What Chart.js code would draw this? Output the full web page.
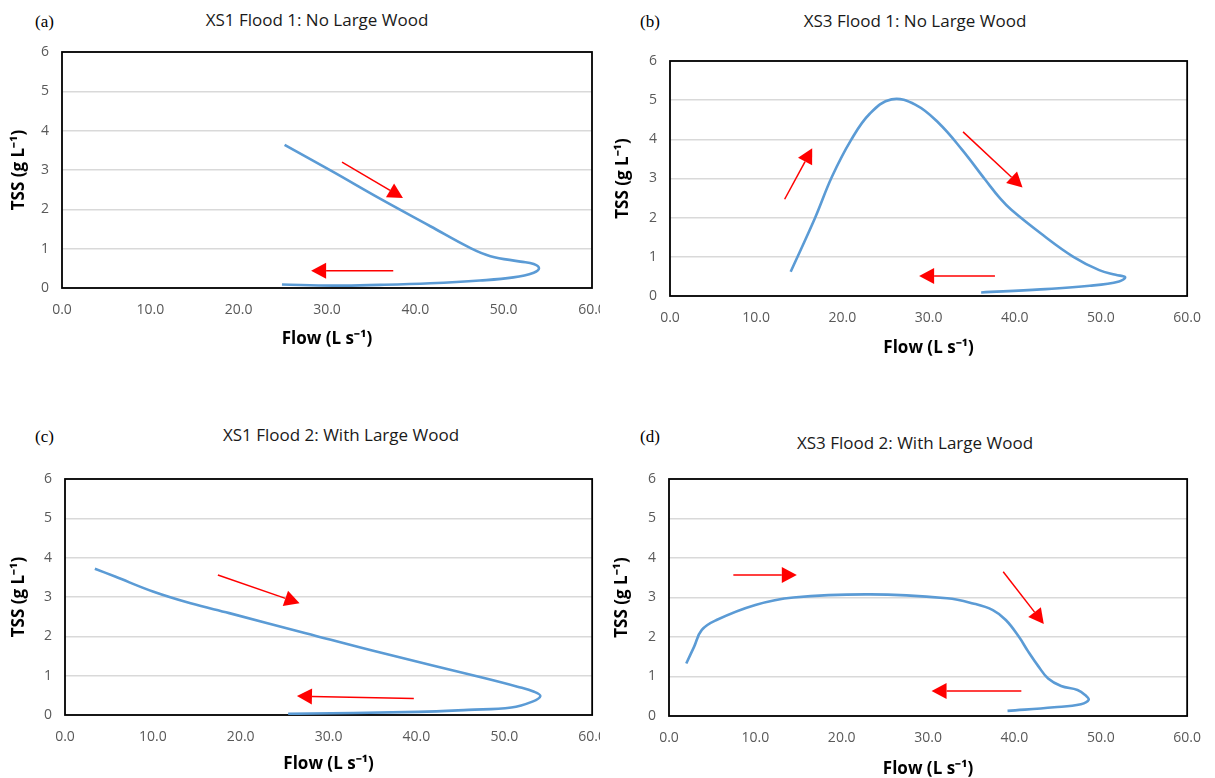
<!DOCTYPE html>
<html>
<head>
<meta charset="utf-8">
<script src="https://cdn.jsdelivr.net/npm/chart.js@4.4.1/dist/chart.umd.min.js"></script>
<style>
  body { margin:0; width:1215px; height:778px; background:#fff; position:relative; overflow:hidden; }
  .wrap { position:absolute; overflow:hidden; }
  .wrap canvas { position:absolute; left:0; top:0; }
  .title { position:absolute; width:400px; text-align:center; font-family:"Open Sans", sans-serif; font-size:17px; color:#1a1a1a; line-height:22px; }
  .tag { position:absolute; font-family:"Liberation Serif", "DejaVu Serif", serif; font-size:17px; color:#000; line-height:20px; }
</style>
</head>
<body>
<div class="tag" style="left:35px;top:12px">(a)</div>
<div class="tag" style="left:640px;top:12px">(b)</div>
<div class="tag" style="left:35px;top:427px">(c)</div>
<div class="tag" style="left:640px;top:427px">(d)</div>
<div class="title" style="left:117px;top:9px">XS1 Flood 1: No Large Wood</div>
<div class="title" style="left:715px;top:10px">XS3 Flood 1: No Large Wood</div>
<div class="title" style="left:141px;top:424px">XS1 Flood 2: With Large Wood</div>
<div class="title" style="left:715px;top:432px">XS3 Flood 2: With Large Wood</div>

<div class="wrap" style="left:0;top:0;width:600px;height:360px"><canvas id="chart-a" width="620" height="360"></canvas></div>
<div class="wrap" style="left:600px;top:0;width:615px;height:360px"><canvas id="chart-b" width="615" height="360"></canvas></div>
<div class="wrap" style="left:0;top:400px;width:600px;height:378px"><canvas id="chart-c" width="620" height="378"></canvas></div>
<div class="wrap" style="left:600px;top:400px;width:615px;height:378px"><canvas id="chart-d" width="615" height="378"></canvas></div>

<script>
// values (flow in L/s, TSS in g/L)
const xTicks = [0, 10, 20, 30, 40, 50, 60];
const yTicks = [0, 1, 2, 3, 4, 5, 6];

const flowA = [25.2, 30.7, 36.0, 41.7, 46.2, 48.5, 51.9, 53.4, 54.0, 53.4, 51.1, 47.3, 41.7, 36.0, 30.7, 24.9];
const tssA  = [3.64, 2.95, 2.27, 1.57, 1.02, 0.81, 0.67, 0.61, 0.50, 0.39, 0.27, 0.19, 0.12, 0.08, 0.06, 0.09];

const flowB = [14.0, 16.8, 18.8, 21.0, 23.2, 25.7, 28.5, 31.2, 33.9, 36.6, 38.3, 39.6, 43.0, 46.8, 49.8, 51.7, 52.8, 52.1, 48.7, 43.0, 36.1];
const tssB  = [0.62, 1.98, 3.05, 3.98, 4.66, 5.02, 4.88, 4.41, 3.73, 2.96, 2.49, 2.20, 1.60, 1.00, 0.66, 0.54, 0.48, 0.37, 0.26, 0.17, 0.09];

const flowC = [3.4, 5.7, 10.0, 14.3, 18.7, 27.4, 36.0, 47.7, 51.5, 53.4, 54.1, 53.2, 50.8, 45.9, 40.2, 25.4];
const tssC  = [3.72, 3.52, 3.14, 2.84, 2.59, 2.08, 1.58, 0.94, 0.72, 0.59, 0.48, 0.34, 0.19, 0.13, 0.08, 0.03];

const flowD = [2.0, 2.9, 3.8, 5.5, 10.0, 14.4, 23.3, 32.2, 35.2, 37.5, 39.0, 40.5, 41.6, 42.8, 43.9, 45.4, 47.3, 48.2, 48.6, 47.7, 44.6, 39.2];
const tssD  = [1.33, 1.75, 2.18, 2.43, 2.81, 3.00, 3.08, 2.98, 2.85, 2.68, 2.43, 2.01, 1.63, 1.25, 0.95, 0.76, 0.66, 0.53, 0.41, 0.30, 0.22, 0.13];

// arrows: [fromFlow, fromTss, toFlow, toTss]
const arrowsA = [[31.7, 3.20, 38.6, 2.29], [37.5, 0.44, 28.2, 0.44]];
const arrowsB = [[13.3, 2.47, 16.5, 3.77], [34.0, 4.19, 40.9, 2.77], [37.7, 0.51, 28.9, 0.51]];
const arrowsC = [[17.4, 3.56, 26.7, 2.84], [39.7, 0.42, 26.4, 0.48]];
const arrowsD = [[7.45, 3.57, 14.8, 3.57], [38.7, 3.65, 43.4, 2.33], [40.8, 0.63, 30.4, 0.63]];

// page layout of each plot
const panels = [
  { id:'a', x0:0,   y0:0,   W:620, H:360, area:{l:62,  t:52,  r:592,  b:288}, yTitleX:19,  xTitleY:339, flow:flowA, tss:tssA, arrows:arrowsA },
  { id:'b', x0:600, y0:0,   W:615, H:360, area:{l:670, t:61,  r:1199, b:296}, yTitleX:623, xTitleY:348, flow:flowB, tss:tssB, arrows:arrowsB },
  { id:'c', x0:0,   y0:400, W:620, H:378, area:{l:65,  t:479, r:595,  b:715}, yTitleX:19,  xTitleY:764, flow:flowC, tss:tssC, arrows:arrowsC },
  { id:'d', x0:600, y0:400, W:615, H:378, area:{l:669, t:479, r:1198, b:716}, yTitleX:622, xTitleY:769, flow:flowD, tss:tssD, arrows:arrowsD }
];

const tickFont = { family:'"Open Sans", sans-serif', size:14 };
const axisFont = { family:'"Open Sans", sans-serif', size:17, weight:'bold' };

const boxAndArrows = {
  id: 'boxAndArrows',
  beforeDatasetsDraw(chart) {
    const a = chart.chartArea, ctx = chart.ctx;
    ctx.save();
    ctx.strokeStyle = '#000';
    ctx.lineWidth = 1.8;
    ctx.strokeRect(a.left, a.top, a.right - a.left, a.bottom - a.top);
    ctx.restore();
  },
  afterDatasetsDraw(chart, args, opts) {
    const ctx = chart.ctx, xs = chart.scales.x, ys = chart.scales.y;
    ctx.save();
    ctx.strokeStyle = '#ff0000';
    ctx.fillStyle = '#ff0000';
    ctx.lineWidth = 1.5;
    (opts.arrows || []).forEach(ar => {
      const x1 = xs.getPixelForValue(ar[0]), y1 = ys.getPixelForValue(ar[1]);
      const x2 = xs.getPixelForValue(ar[2]), y2 = ys.getPixelForValue(ar[3]);
      const ang = Math.atan2(y2 - y1, x2 - x1);
      const hl = 15, hw = 8;
      const bx = x2 - Math.cos(ang) * hl, by = y2 - Math.sin(ang) * hl;
      ctx.beginPath();
      ctx.moveTo(x1, y1);
      ctx.lineTo(bx, by);
      ctx.stroke();
      ctx.beginPath();
      ctx.moveTo(x2, y2);
      ctx.lineTo(bx + Math.sin(ang) * hw, by - Math.cos(ang) * hw);
      ctx.lineTo(bx - Math.sin(ang) * hw, by + Math.cos(ang) * hw);
      ctx.closePath();
      ctx.fill();
    });
    ctx.restore();
  }
};

function makeChart(p) {
  const ayW = p.area.l - p.x0;
  const axH = p.y0 + p.H - p.area.b;
  const padRight = p.x0 + p.W - p.area.r;
  const padTop = p.area.t - p.y0;

  new Chart(document.getElementById('chart-' + p.id), {
    type: 'scatter',
    data: {
      datasets: [{
        data: p.flow.map((f, i) => ({ x: f, y: p.tss[i] })),
        showLine: true,
        borderColor: '#5B9BD5',
        borderWidth: 2.6,
        pointRadius: 0,
        tension: 0.4,
        fill: false
      }]
    },
    options: {
      responsive: false,
      animation: false,
      layout: { padding: { left: 0, top: padTop, right: padRight, bottom: 0 } },
      plugins: {
        legend: { display: false },
        tooltip: { enabled: false },
        boxAndArrows: { arrows: p.arrows }
      },
      scales: {
        x: {
          type: 'linear',
          min: xTicks[0], max: xTicks[xTicks.length - 1],
          afterBuildTicks: s => { s.ticks = xTicks.map(v => ({ value: v })); },
          ticks: { callback: v => v.toFixed(1), color: '#595959', font: tickFont, padding: 14, maxRotation: 0, autoSkip: false },
          grid: { display: false, drawTicks: false },
          border: { display: false },
          title: { display: true, text: 'Flow (L s⁻¹)', color: '#000', font: axisFont,
                   padding: { top: 0, bottom: p.y0 + p.H - p.xTitleY - 10 } },
          afterFit: s => { s.height = axH; }
        },
        y: {
          min: yTicks[0], max: yTicks[yTicks.length - 1],
          afterBuildTicks: s => { s.ticks = yTicks.map(v => ({ value: v })); },
          ticks: { color: '#595959', font: tickFont, padding: 13 },
          grid: { color: '#d9d9d9', lineWidth: 1.5, drawTicks: false },
          border: { display: false },
          title: { display: true, text: 'TSS (g L⁻¹)', color: '#000', font: axisFont,
                   padding: { top: p.yTitleX - p.x0 - 10, bottom: 0 } },
          afterFit: s => { s.width = ayW; }
        }
      }
    },
    plugins: [boxAndArrows]
  });
}

panels.forEach(makeChart);
</script>
</body>
</html>
